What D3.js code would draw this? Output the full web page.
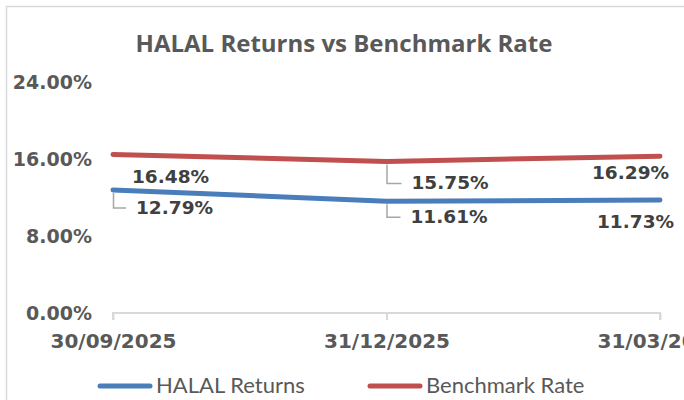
<!DOCTYPE html>
<html>
<head>
<meta charset="utf-8">
<script src="https://cdn.jsdelivr.net/npm/d3@7"></script>
<style>
  html, body { margin: 0; padding: 0; background: #fff; }
  svg { display: block; }
</style>
</head>
<body>
<div class="chart"></div>
<script>
const dates = ['30/09/2025', '31/12/2025', '31/03/2026'];
const halalReturns = [12.79, 11.61, 11.73];
const benchmarkRate = [16.48, 15.75, 16.29];
const yTicks = [0, 8, 16, 24];
const seriesNames = ['HALAL Returns', 'Benchmark Rate'];
const seriesColors = ['#4a7ebb', '#c0504d'];

const width = 684, height = 400;
const numFont = '"DejaVu Sans", sans-serif';

let svg = d3.select('.chart').append('svg')
  .attr('width', width)
  .attr('height', height);

// chart frame
svg.append('rect')
  .attr('x', 6.5).attr('y', 6.5)
  .attr('width', 720).attr('height', 420)
  .attr('fill', 'none')
  .attr('stroke', '#d9d9d9')
  .attr('stroke-width', 1.5);

svg.append('text')
  .attr('x', 344).attr('y', 52)
  .attr('text-anchor', 'middle')
  .style('font-family', '"Open Sans", sans-serif')
  .style('font-weight', 700)
  .style('font-size', '24px')
  .attr('fill', '#595959')
  .text('HALAL Returns vs Benchmark Rate');

let x = d3.scalePoint().domain(dates).range([113, 660]);
let y = d3.scaleLinear().domain([0, 24]).range([313, 82]);

// y axis labels (no axis line)
let yAxis = d3.axisLeft(y).tickValues(yTicks).tickSize(0).tickPadding(0)
  .tickFormat(d => d.toFixed(2) + '%');
let yg = svg.append('g').attr('transform', 'translate(92,0)').call(yAxis);
yg.select('.domain').remove();
yg.selectAll('text')
  .attr('dy', '0.36em')
  .style('font-family', numFont)
  .style('font-weight', 700)
  .style('font-size', '19px')
  .attr('fill', '#595959');

// x axis
let xAxis = d3.axisBottom(x).tickSize(7).tickPadding(14);
let xg = svg.append('g').attr('transform', 'translate(0,' + y(0) + ')').call(xAxis);
xg.select('.domain')
  .attr('d', 'M' + x(dates[0]) + ',7V0H' + x(dates[2]) + 'V7')
  .attr('stroke', '#d9d9d9').attr('stroke-width', 2);
xg.selectAll('.tick line').attr('stroke', '#d9d9d9').attr('stroke-width', 2);
xg.selectAll('text')
  .attr('dy', '0.71em')
  .style('font-family', numFont)
  .style('font-weight', 700)
  .style('font-size', '20px')
  .attr('fill', '#595959');

let line = d3.line()
  .x((d, i) => x(dates[i]))
  .y(d => y(d));

[halalReturns, benchmarkRate].forEach((vals, k) => {
  svg.append('path')
    .datum(vals)
    .attr('d', line)
    .attr('fill', 'none')
    .attr('stroke', seriesColors[k])
    .attr('stroke-width', 5)
    .attr('stroke-linecap', 'round')
    .attr('stroke-linejoin', 'round');
});

// data labels: offsets from the point (dx, dy to baseline), optional leader line
const labelPos = [
  // halal
  [{dx: 23, dy: 24, leader: true}, {dx: 24, dy: 22, leader: true}, {dx: -63, dy: 28}],
  // benchmark
  [{dx: 19, dy: 29}, {dx: 25, dy: 28, leader: true}, {dx: -68, dy: 23}]
];

let labels = svg.append('g');
[halalReturns, benchmarkRate].forEach((vals, k) => {
  vals.forEach((v, i) => {
    let px = x(dates[i]), py = y(v);
    let p = labelPos[k][i];
    if (p.leader) {
      labels.append('path')
        .attr('d', 'M' + (px + 0.5) + ',' + (py + 3) + 'V' + (py + p.dy - 6) + 'H' + (px + p.dx - 10))
        .attr('fill', 'none')
        .attr('stroke', '#a6a6a6')
        .attr('stroke-width', 1.5);
    }
    labels.append('text')
      .attr('x', px + p.dx)
      .attr('y', py + p.dy)
      .style('font-family', numFont)
      .style('font-weight', 700)
      .style('font-size', '18.5px')
      .attr('fill', '#404040')
      .text(v.toFixed(2) + '%');
  });
});

// legend
const legendX = [97, 367];
let legend = svg.append('g');
seriesNames.forEach((name, k) => {
  legend.append('line')
    .attr('x1', legendX[k] + 3).attr('x2', legendX[k] + 53)
    .attr('y1', 386).attr('y2', 386)
    .attr('stroke', seriesColors[k])
    .attr('stroke-width', 5)
    .attr('stroke-linecap', 'round');
  legend.append('text')
    .attr('x', legendX[k] + 59)
    .attr('y', 393)
    .style('font-family', 'Lato, sans-serif')
    .style('font-size', '22px')
    .attr('fill', '#595959')
    .text(name);
});
</script>
</body>
</html>
